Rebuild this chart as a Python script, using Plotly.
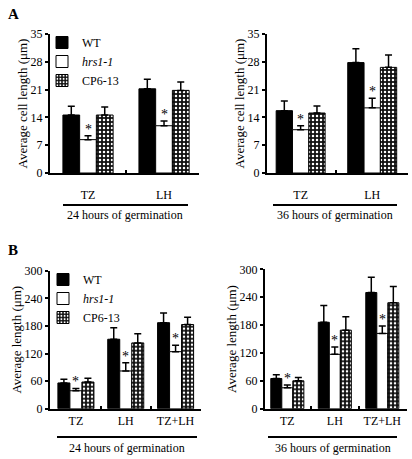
import plotly.graph_objects as go

# ---------------- data ----------------
genotypes = ["WT", "<i>hrs1-1</i>", "CP6-13"]

catA = ["TZ", "LH"]
catB = ["TZ", "LH", "TZ+LH"]

# Panel A: average cell length (um)
a24_wt = [14.6, 21.2]
a24_wt_se = [2.2, 2.4]
a24_hrs = [8.4, 11.9]
a24_hrs_se = [1.0, 1.2]
a24_cp = [14.6, 20.8]
a24_cp_se = [2.0, 2.1]

a36_wt = [15.7, 27.8]
a36_wt_se = [2.4, 3.5]
a36_hrs = [10.9, 16.4]
a36_hrs_se = [1.0, 2.4]
a36_cp = [15.1, 26.6]
a36_cp_se = [1.8, 3.1]

# Panel B: average length (um)
b24_wt = [56, 151, 187]
b24_wt_se = [8, 25, 21]
b24_hrs = [39, 82, 124]
b24_hrs_se = [5, 18, 14]
b24_cp = [58, 143, 183]
b24_cp_se = [8, 20, 16]

b36_wt = [65, 186, 250]
b36_wt_se = [8, 36, 33]
b36_hrs = [45, 117, 162]
b36_hrs_se = [6, 16, 16]
b36_cp = [60, 169, 228]
b36_cp_se = [7, 29, 35]

yticksA = [0, 7, 14, 21, 28, 35]
yticksB = [0, 60, 120, 180, 240, 300]

group_labels = ["24 hours of germination", "36 hours of germination"]

# ---------------- figure ----------------
W, H = 412, 459
FONT = "Liberation Serif, Times New Roman, serif"

fig = go.Figure()

panels = [
    # (xaxis id, yaxis id, cats, series, bar width, legend, x domain px, y domain px, xrange, label standoff)
    ("x", "y", catA, [(a24_wt, a24_wt_se), (a24_hrs, a24_hrs_se), (a24_cp, a24_cp_se)], 0.22, "legend", (50, 199), (34, 173), [-0.5, 1.46], 10),
    ("x2", "y2", catA, [(a36_wt, a36_wt_se), (a36_hrs, a36_hrs_se), (a36_cp, a36_cp_se)], 0.228, None, (267, 408), (34, 173), [-0.47, 1.50], 10),
    ("x3", "y3", catB, [(b24_wt, b24_wt_se), (b24_hrs, b24_hrs_se), (b24_cp, b24_cp_se)], 0.241, "legend2", (50, 201), (270.7, 408.7), [-0.52, 2.51], 0),
    ("x4", "y4", catB, [(b36_wt, b36_wt_se), (b36_hrs, b36_hrs_se), (b36_cp, b36_cp_se)], 0.232, None, (265, 407), (269.3, 408.7), [-0.47, 2.52], 0),
]

styles = [
    dict(color="black"),
    dict(color="white"),
    dict(color="black", pattern=dict(shape=".", fgcolor="white", bgcolor="#111", size=4, solidity=0.3)),
]

annotations = []
for (xa, ya, cats, series, w, leg, xd, yd, xr, so) in panels:
    for i, ((vals, se), st) in enumerate(zip(series, styles)):
        fig.add_trace(go.Bar(
            x=cats, y=vals, name=genotypes[i],
            xaxis=xa, yaxis=ya,
            width=w, offset=(i - 1.5) * w,
            marker=dict(line=dict(color="black", width=1), **st),
            error_y=dict(type="data", symmetric=False, array=se, arrayminus=[0] * len(se),
                         color="black", thickness=1.5, width=3.5),
            showlegend=leg is not None,
            legend=leg if leg else "legend",
        ))
    # asterisks over the hrs1-1 bars
    hv, hs = series[1]
    for c, v, s in zip(cats, hv, hs):
        annotations.append(dict(x=c, y=v + s, xref=xa, yref=ya, text="*", showarrow=False,
                                yanchor="bottom", yshift=-3, font=dict(size=14, family=FONT, color="black")))

def xaxis_cfg(xd, xr, anchor, so):
    return dict(domain=[xd[0] / W, xd[1] / W], range=xr, anchor=anchor, automargin=False,
                showline=True, linecolor="black", linewidth=2, ticks="inside", ticklen=3,
                tickwidth=1.5, tickcolor="black", tickson="boundaries", showgrid=False, zeroline=False,
                ticklabelstandoff=so, tickfont=dict(size=12, family=FONT, color="black"),
                fixedrange=True)

def yaxis_cfg(yd, rng, tv, anchor, title):
    return dict(domain=[1 - yd[1] / H, 1 - yd[0] / H], range=rng, anchor=anchor, automargin=False,
                tickvals=tv, showline=True, linecolor="black", linewidth=2, ticks="outside",
                ticklen=3, tickwidth=1.5, tickcolor="black", showgrid=False, zeroline=False,
                tickfont=dict(size=12, family=FONT, color="black"), fixedrange=True,
                title=dict(text=title, font=dict(size=13, family=FONT, color="black"), standoff=0))

titleA = "Average cell length (μm)"
titleB = "Average length (μm)"

P = panels
layout = dict(
    template="none",
    width=W, height=H, margin=dict(l=0, r=0, t=0, b=0, autoexpand=False),
    paper_bgcolor="white", plot_bgcolor="white",
    barmode="overlay",
    font=dict(family=FONT, color="black"),
    xaxis=xaxis_cfg(P[0][6], P[0][8], "y", P[0][9]),
    xaxis2=xaxis_cfg(P[1][6], P[1][8], "y2", P[1][9]),
    xaxis3=xaxis_cfg(P[2][6], P[2][8], "y3", P[2][9]),
    xaxis4=xaxis_cfg(P[3][6], P[3][8], "y4", P[3][9]),
    yaxis=yaxis_cfg(P[0][7], [0, 35], yticksA, "x", titleA),
    yaxis2=yaxis_cfg(P[1][7], [0, 35], yticksA, "x2", titleA),
    yaxis3=yaxis_cfg(P[2][7], [0, 300], yticksB, "x3", titleB),
    yaxis4=yaxis_cfg(P[3][7], [0, 300], yticksB, "x4", titleB),
    legend=dict(x=42 / W, y=1 - 28 / H, xanchor="left", yanchor="top", bgcolor="rgba(0,0,0,0)",
                font=dict(size=12, family=FONT, color="black"), tracegroupgap=0, itemwidth=30),
    legend2=dict(x=43 / W, y=1 - 265 / H, xanchor="left", yanchor="top", bgcolor="rgba(0,0,0,0)",
                 font=dict(size=12, family=FONT, color="black"), tracegroupgap=0, itemwidth=30),
)
fig.update_layout(**layout)

# panel letters
annotations.append(dict(x=6 / W, y=1 - 4 / H, xref="paper", yref="paper", text="<b>A</b>", showarrow=False,
                        xanchor="left", yanchor="top", font=dict(size=15, family=FONT, color="black")))
annotations.append(dict(x=6 / W, y=1 - 240 / H, xref="paper", yref="paper", text="<b>B</b>", showarrow=False,
                        xanchor="left", yanchor="top", font=dict(size=15, family=FONT, color="black")))

# group underline + labels
groups = [((63, 188), 205, 215, group_labels[0]),
          ((273, 397), 205, 215, group_labels[1]),
          ((57, 197), 437, 448, group_labels[0]),
          ((268, 397), 437, 448, group_labels[1])]
shapes = []
for (x0, x1), yl, yt, txt in groups:
    shapes.append(dict(type="line", xref="paper", yref="paper", x0=x0 / W, x1=x1 / W,
                       y0=1 - yl / H, y1=1 - yl / H, line=dict(color="black", width=2)))
    annotations.append(dict(x=(x0 + x1) / 2 / W, y=1 - yt / H, xref="paper", yref="paper", text=txt,
                            showarrow=False, xanchor="center", yanchor="middle",
                            font=dict(size=12, family=FONT, color="black")))

fig.update_layout(annotations=annotations, shapes=shapes)
fig.write_html("out.html", config={"displayModeBar": False},
               post_script="document.body.style.margin='0px';document.body.style.overflow='hidden';")
